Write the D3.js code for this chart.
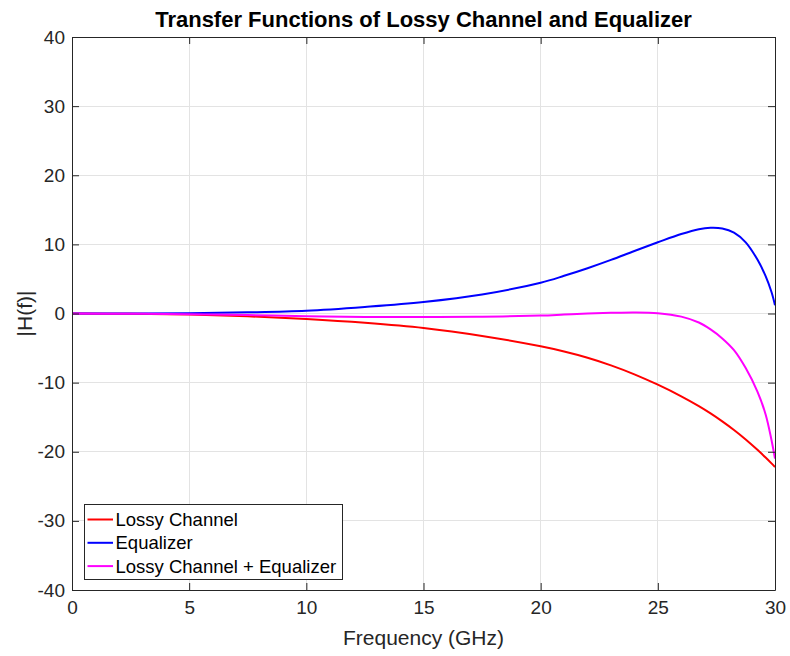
<!DOCTYPE html>
<html>
<head>
<meta charset="utf-8">
<script src="https://cdn.jsdelivr.net/npm/d3@7"></script>
<style>
  html, body { margin: 0; padding: 0; background: #ffffff; }
  svg { display: block; font-family: "Liberation Sans", Arial, Helvetica, sans-serif; }
</style>
</head>
<body>
<svg id="chart" width="790" height="656"></svg>
<script>
// Frequency samples (GHz)
const freq = [0, 2.5, 5, 7.5, 10, 12.5, 15, 17.5, 20, 21, 22, 23, 24, 25, 26, 26.75, 27.25, 27.75, 28.25, 28.75, 29.25, 29.6, 29.85, 30];

// Magnitude responses (dB)
const lossyChannel = [0, -0.05, -0.15, -0.4, -0.8, -1.35, -2.1, -3.25, -4.75, -5.5, -6.4, -7.5, -8.8, -10.3, -11.98, -13.4, -14.45, -15.6, -16.85, -18.22, -19.72, -20.84, -21.68, -22.2];
const equalizer = [0, 0.01, 0.05, 0.17, 0.4, 0.95, 1.66, 2.75, 4.46, 5.45, 6.55, 7.75, 9.05, 10.3, 11.5, 12.2, 12.4, 12.3, 11.7, 10.3, 7.8, 5.4, 3.1, 1.2];
const combined = [0, -0.04, -0.1, -0.23, -0.4, -0.5, -0.5, -0.48, -0.3, -0.15, 0.0, 0.1, 0.16, 0.05, -0.45, -1.3, -2.3, -3.6, -5.3, -7.9, -11.3, -14.6, -18.3, -21.0];

const seriesNames = ["Lossy Channel", "Equalizer", "Lossy Channel + Equalizer"];
const seriesColors = ["#ff0000", "#0000ff", "#ff00ff"];
const seriesValues = [lossyChannel, equalizer, combined];

const xTicks = [0, 5, 10, 15, 20, 25, 30];
const yTicks = [-40, -30, -20, -10, 0, 10, 20, 30, 40];

const titleText = "Transfer Functions of Lossy Channel and Equalizer";
const xLabel = "Frequency (GHz)";
const yLabel = "|H(f)|";

const svg = d3.select("#chart");
const plot = { left: 72, right: 775, top: 37, bottom: 590 };

const x = d3.scaleLinear().domain([0, 30]).range([plot.left, plot.right]);
const y = d3.scaleLinear().domain([-40, 40]).range([plot.bottom, plot.top]);

const axisColor = "#262626";
const gridColor = "#e3e3e3";
const tickLen = 7;

// Grid lines
const grid = svg.append("g");
grid.selectAll("line.gx").data(xTicks).join("line")
  .attr("x1", d => x(d)).attr("x2", d => x(d))
  .attr("y1", plot.top).attr("y2", plot.bottom)
  .attr("stroke", gridColor).attr("stroke-width", 1).attr("shape-rendering", "crispEdges");
grid.selectAll("line.gy").data(yTicks).join("line")
  .attr("y1", d => y(d)).attr("y2", d => y(d))
  .attr("x1", plot.left).attr("x2", plot.right)
  .attr("stroke", gridColor).attr("stroke-width", 1).attr("shape-rendering", "crispEdges");

// Curves
const line = d3.line().curve(d3.curveCatmullRom.alpha(0.5));
const curves = svg.append("g");
seriesValues.forEach((vals, i) => {
  curves.append("path")
    .attr("d", line(freq.map((f, k) => [x(f), y(vals[k])])))
    .attr("fill", "none")
    .attr("stroke", seriesColors[i])
    .attr("stroke-width", 2)
    .attr("stroke-linejoin", "round");
});

// Axes with inward ticks on all four sides
function styleAxis(g) {
  g.select(".domain").attr("stroke", axisColor).attr("stroke-width", 1);
  g.selectAll(".tick line").attr("stroke", axisColor).attr("stroke-width", 1);
  g.selectAll(".tick text").attr("fill", axisColor).style("font-size", "19px")
    .style("font-family", "\"Liberation Sans\", Arial, sans-serif");
}

const xAxis = svg.append("g").attr("transform", `translate(0,${plot.bottom})`)
  .call(d3.axisBottom(x).tickValues(xTicks).tickFormat(d3.format("d"))
    .tickSizeInner(-tickLen).tickSizeOuter(0).tickPadding(11));
styleAxis(xAxis);

const xAxisTop = svg.append("g").attr("transform", `translate(0,${plot.top})`)
  .call(d3.axisTop(x).tickValues(xTicks).tickFormat("")
    .tickSizeInner(-tickLen).tickSizeOuter(0));
styleAxis(xAxisTop);

const yAxis = svg.append("g").attr("transform", `translate(${plot.left},0)`)
  .call(d3.axisLeft(y).tickValues(yTicks)
    .tickSizeInner(-tickLen).tickSizeOuter(0).tickPadding(7));
styleAxis(yAxis);

const yAxisRight = svg.append("g").attr("transform", `translate(${plot.right},0)`)
  .call(d3.axisRight(y).tickValues(yTicks).tickFormat("")
    .tickSizeInner(-tickLen).tickSizeOuter(0));
styleAxis(yAxisRight);

// Negative ticks use a plain hyphen
yAxis.selectAll(".tick text").text(d => String(d));

// Title and axis labels
svg.append("text")
  .attr("x", (plot.left + plot.right) / 2).attr("y", 27)
  .attr("text-anchor", "middle")
  .attr("fill", "#000")
  .style("font-size", "22px").style("font-weight", "bold")
  .text(titleText);

svg.append("text")
  .attr("x", (plot.left + plot.right) / 2).attr("y", 645)
  .attr("text-anchor", "middle")
  .attr("fill", axisColor)
  .style("font-size", "21px")
  .text(xLabel);

svg.append("text")
  .attr("transform", `translate(32,${(plot.top + plot.bottom) / 2}) rotate(-90)`)
  .attr("text-anchor", "middle")
  .attr("fill", axisColor)
  .style("font-size", "21px")
  .text(yLabel);

// Legend
const legend = { x: 84, y: 504, w: 258, h: 75, rowGap: 23.3 };
const lg = svg.append("g");
lg.append("rect")
  .attr("x", legend.x + 0.5).attr("y", legend.y + 0.5)
  .attr("width", legend.w).attr("height", legend.h)
  .attr("fill", "#ffffff").attr("stroke", axisColor).attr("stroke-width", 1);
seriesNames.forEach((name, i) => {
  const cy = legend.y + 15.5 + i * legend.rowGap;
  lg.append("line")
    .attr("x1", legend.x + 3.5).attr("x2", legend.x + 29)
    .attr("y1", cy).attr("y2", cy)
    .attr("stroke", seriesColors[i]).attr("stroke-width", 2);
  lg.append("text")
    .attr("x", legend.x + 31.5).attr("y", cy)
    .attr("dy", "0.35em")
    .attr("fill", "#000")
    .style("font-size", "18.5px")
    .text(name);
});
</script>
</body>
</html>
